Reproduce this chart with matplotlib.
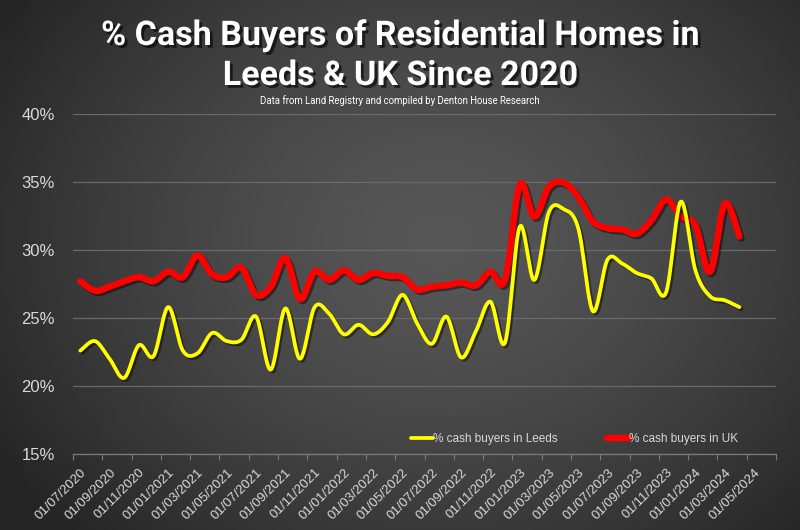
import numpy as np
import matplotlib
matplotlib.use("Agg")
import matplotlib.pyplot as plt
import matplotlib.patheffects as pe

# ---------------- data ----------------
months = ["01/07/2020", "01/08/2020", "01/09/2020", "01/10/2020", "01/11/2020", "01/12/2020",
          "01/01/2021", "01/02/2021", "01/03/2021", "01/04/2021", "01/05/2021", "01/06/2021",
          "01/07/2021", "01/08/2021", "01/09/2021", "01/10/2021", "01/11/2021", "01/12/2021",
          "01/01/2022", "01/02/2022", "01/03/2022", "01/04/2022", "01/05/2022", "01/06/2022",
          "01/07/2022", "01/08/2022", "01/09/2022", "01/10/2022", "01/11/2022", "01/12/2022",
          "01/01/2023", "01/02/2023", "01/03/2023", "01/04/2023", "01/05/2023", "01/06/2023",
          "01/07/2023", "01/08/2023", "01/09/2023", "01/10/2023", "01/11/2023", "01/12/2023",
          "01/01/2024", "01/02/2024", "01/03/2024", "01/04/2024"]

leeds = [22.6, 23.3, 22.0, 20.6, 23.0, 22.2, 25.8, 22.6, 22.4, 23.9, 23.3, 23.4,
         25.1, 21.2, 25.7, 22.0, 25.8, 25.3, 23.8, 24.5, 23.8, 24.7, 26.7, 24.6,
         23.1, 25.1, 22.1, 24.0, 26.2, 23.2, 31.7, 27.8, 32.8, 33.0, 31.6, 25.5,
         29.3, 29.0, 28.3, 27.9, 26.9, 33.55, 28.5, 26.6, 26.3, 25.8]

uk = [27.7, 27.0, 27.3, 27.7, 28.0, 27.7, 28.4, 28.0, 29.6, 28.2, 28.0, 28.7,
      26.7, 27.3, 29.4, 26.4, 28.4, 27.8, 28.5, 27.8, 28.3, 28.1, 28.0, 27.1,
      27.3, 27.4, 27.6, 27.4, 28.4, 27.8, 34.8, 32.45, 34.65, 34.95, 33.9, 32.1,
      31.6, 31.5, 31.2, 32.2, 33.7, 32.45, 31.8, 28.4, 33.4, 31.0]

tick_labels = ["01/07/2020", "01/09/2020", "01/11/2020", "01/01/2021", "01/03/2021", "01/05/2021",
               "01/07/2021", "01/09/2021", "01/11/2021", "01/01/2022", "01/03/2022", "01/05/2022",
               "01/07/2022", "01/09/2022", "01/11/2022", "01/01/2023", "01/03/2023", "01/05/2023",
               "01/07/2023", "01/09/2023", "01/11/2023", "01/01/2024", "01/03/2024", "01/05/2024"]

series_names = ["% cash buyers in Leeds", "% cash buyers in UK"]
title = "% Cash Buyers of Residential Homes in\nLeeds & UK Since 2020"
subtitle = "Data from Land Registry and compiled by Denton House Research"


def catmull_rom(x, y, n=24):
    """Uniform Catmull-Rom spline (Excel-like smoothing)."""
    P = np.column_stack([x, y]).astype(float)
    P = np.vstack([P[0], P, P[-1]])
    out = []
    t = np.linspace(0, 1, n, endpoint=False)[:, None]
    for i in range(1, len(P) - 2):
        p0, p1, p2, p3 = P[i - 1], P[i], P[i + 1], P[i + 2]
        pts = 0.5 * ((2 * p1) + (-p0 + p2) * t + (2 * p0 - 5 * p1 + 4 * p2 - p3) * t ** 2
                     + (-p0 + 3 * p1 - 3 * p2 + p3) * t ** 3)
        out.append(pts)
    out.append(P[-2][None, :])
    out = np.vstack(out)
    return out[:, 0], out[:, 1]


plt.rcParams['font.family'] = ['Liberation Sans', 'DejaVu Sans']

fig = plt.figure(figsize=(8, 5.3), dpi=100)

# background radial gradient
bg = fig.add_axes([0, 0, 1, 1], zorder=-10)
H, W = 530, 800
yy, xx = np.mgrid[0:H, 0:W]
cx, cy = 440, 240
r = np.sqrt(((xx - cx) / 520.0) ** 2 + ((yy - cy) / 420.0) ** 2)
r = np.clip(r, 0, 1)
c_center, c_edge = 0x57 / 255, 0x25 / 255
val = c_center - (c_center - c_edge) * r ** 1.4
img = np.dstack([val, val, val])
bg.imshow(img, aspect='auto', extent=[0, 1, 0, 1], origin='upper')
bg.set_axis_off()

ax = fig.add_axes([73 / 800, 1 - 454 / 530, (776 - 73) / 800, (454 - 114) / 530])
ax.patch.set_alpha(0)

x = np.arange(len(months))
shadow = [pe.SimpleLineShadow(offset=(1.5, -1.5), shadow_color='black', alpha=0.45), pe.Normal()]

xs, ys = catmull_rom(x, uk)
ax.plot(xs, ys, color='#ff0000', lw=4.6, solid_capstyle='round', solid_joinstyle='round',
        path_effects=shadow, zorder=3, label=series_names[1])
xs, ys = catmull_rom(x, leeds)
ax.plot(xs, ys, color='#ffff00', lw=2.7, solid_capstyle='round', solid_joinstyle='round',
        path_effects=shadow, zorder=4, label=series_names[0])

ax.set_xlim(-0.5, len(months) + 1.5)
ax.set_ylim(15, 40)
ax.set_yticks([15, 20, 25, 30, 35, 40])
ax.set_yticklabels([f"{v}%" for v in [15, 20, 25, 30, 35, 40]], fontsize=12, color='#d9d9d9')
ax.tick_params(axis='y', length=0, pad=13)
ax.grid(axis='y', color='#6a6a6a', lw=0.9)
ax.set_axisbelow(True)

ax.set_xticks(np.arange(0, 2 * len(tick_labels), 2))
ax.set_xticklabels(tick_labels, rotation=45, ha='right', rotation_mode='anchor',
                   fontsize=9.5, color='#d9d9d9')
ax.tick_params(axis='x', length=0, pad=9)
ax.set_xticks(np.arange(-0.5, 2 * len(tick_labels), 2), minor=True)
ax.tick_params(axis='x', which='minor', length=4, color='#7a7a7a', width=0.8)

for s in ['top', 'right', 'left']:
    ax.spines[s].set_visible(False)
ax.spines['bottom'].set_color('#7a7a7a')
ax.spines['bottom'].set_linewidth(0.9)

handles, labels = ax.get_legend_handles_labels()
leg = ax.legend(handles[::-1], labels[::-1], loc='center', bbox_to_anchor=(0.714, 0.045),
                ncol=2, frameon=False, fontsize=8.5, handlelength=1.8, handletextpad=0.05,
                columnspacing=4.2, labelcolor='#d9d9d9')
for h in leg.legend_handles:
    h.set_path_effects([])

title_shadow = [pe.withSimplePatchShadow(offset=(2, -2), shadow_rgbFace='black', alpha=0.6)]
fig.text(0.5, 1 - 56 / 530, title, ha='center', va='center', fontsize=24.5, fontweight='bold',
         color='white', linespacing=1.32, family=['Roboto', 'DejaVu Sans'],
         path_effects=title_shadow)
fig.text(0.5, 1 - 101 / 530, subtitle, ha='center', va='center', fontsize=6.9,
         color='white', family=['Roboto', 'DejaVu Sans'])

fig.savefig("out.png", dpi=100)
